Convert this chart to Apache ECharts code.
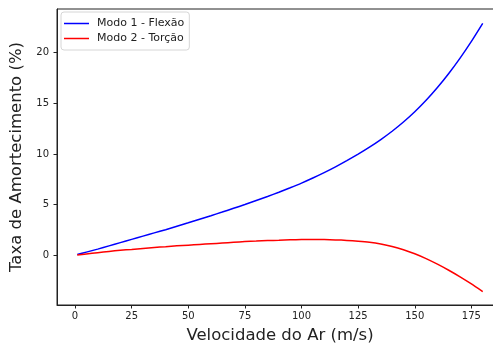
<!DOCTYPE html>
<html>
<head>
<meta charset="utf-8">
<script src="https://cdn.jsdelivr.net/npm/echarts@6/dist/echarts.min.js"></script>
<style>
  html, body { margin: 0; padding: 0; background: #fff; }
  #chart { width: 493px; height: 344px; }
</style>
</head>
<body>
<div id="chart"></div>
<script>
// velocidade do ar (m/s)
var speeds = [1, 5, 10, 15, 20, 25, 30, 35, 40, 45, 50, 55, 60, 65, 70, 75, 80, 85, 90,
    95, 100, 105, 110, 115, 120, 125, 130, 135, 140, 145, 150, 155, 160, 165, 170, 175, 180];
// taxa de amortecimento (%) - modo 1 flexao
var modo1 = [0.06, 0.3, 0.6, 0.92, 1.24, 1.56, 1.88, 2.2, 2.52, 2.86, 3.2, 3.55, 3.9, 4.26, 4.63, 5.0,
    5.4, 5.8, 6.22, 6.66, 7.12, 7.62, 8.15, 8.72, 9.33, 9.98, 10.67, 11.42, 12.24, 13.15, 14.16,
    15.29, 16.55, 17.94, 19.46, 21.11, 22.89];
// modo 2 torcao
var modo2 = [0.02, 0.12, 0.25, 0.37, 0.48, 0.57, 0.67, 0.76, 0.84, 0.92, 0.99, 1.06, 1.13, 1.2, 1.27, 1.34,
    1.39, 1.44, 1.48, 1.52, 1.54, 1.55, 1.54, 1.51, 1.46, 1.38, 1.27, 1.1, 0.86, 0.54, 0.14,
    -0.34, -0.89, -1.49, -2.14, -2.84, -3.59];
var xTicks = [0, 25, 50, 75, 100, 125, 150, 175];
var yTicks = [0, 5, 10, 15, 20];

function pairs(xs, ys) {
    var out = [];
    for (var i = 0; i < xs.length; i++) {
        out.push([xs[i], ys[i]]);
    }
    return out;
}

var txt = '#222';
var myChart = echarts.init(document.getElementById('chart'), null, { renderer: 'canvas' });
myChart.setOption({
    backgroundColor: '#fff',
    animation: false,
    textStyle: { fontFamily: 'DejaVu Sans' },
    grid: {
        left: 57,
        right: -10,
        top: 9,
        bottom: 39,
        outerBoundsMode: 'none',
        containLabel: false,
        show: true,
        borderColor: '#222',
        borderWidth: 1,
        backgroundColor: 'transparent'
    },
    legend: {
        orient: 'vertical',
        left: 61,
        top: 12,
        padding: [6, 5, 6, 3],
        itemGap: 4,
        itemWidth: 25,
        itemHeight: 1.5,
        icon: 'rect',
        borderColor: '#d6d6d6',
        borderWidth: 1,
        borderRadius: 3,
        backgroundColor: 'rgba(255,255,255,0.8)',
        textStyle: { fontSize: 11, color: txt, padding: [0, 0, 0, 3] },
        data: ['Modo 1 - Flexão', 'Modo 2 - Torção']
    },
    xAxis: {
        type: 'value',
        min: -7.95,
        max: 188.95,
        name: 'Velocidade do Ar (m/s)',
        nameLocation: 'middle',
        nameGap: 22,
        nameTextStyle: { fontSize: 16.5, color: txt },
        axisLine: { show: true, onZero: false, lineStyle: { color: '#222', width: 1 } },
        axisTick: { show: true, length: 3.5, customValues: xTicks, lineStyle: { color: '#222' } },
        axisLabel: { fontSize: 10, color: txt, margin: 6, customValues: xTicks },
        splitLine: { show: false }
    },
    yAxis: {
        type: 'value',
        min: -4.92,
        max: 24.31,
        name: 'Taxa de Amortecimento (%)',
        nameLocation: 'middle',
        nameGap: 27,
        nameTextStyle: { fontSize: 16.5, color: txt },
        axisLine: { show: true, onZero: false, lineStyle: { color: '#222', width: 1 } },
        axisTick: { show: true, length: 3.5, customValues: yTicks, lineStyle: { color: '#222' } },
        axisLabel: { fontSize: 10, color: txt, margin: 8, customValues: yTicks },
        splitLine: { show: false }
    },
    series: [
        {
            name: 'Modo 1 - Flexão',
            type: 'line',
            data: pairs(speeds, modo1),
            smooth: 0.2,
            symbol: 'none',
            color: '#0000ff',
            lineStyle: { width: 1.5, color: '#0000ff' }
        },
        {
            name: 'Modo 2 - Torção',
            type: 'line',
            data: pairs(speeds, modo2),
            smooth: 0.2,
            symbol: 'none',
            color: '#ff0000',
            lineStyle: { width: 1.5, color: '#ff0000' }
        }
    ]
});
</script>
</body>
</html>
